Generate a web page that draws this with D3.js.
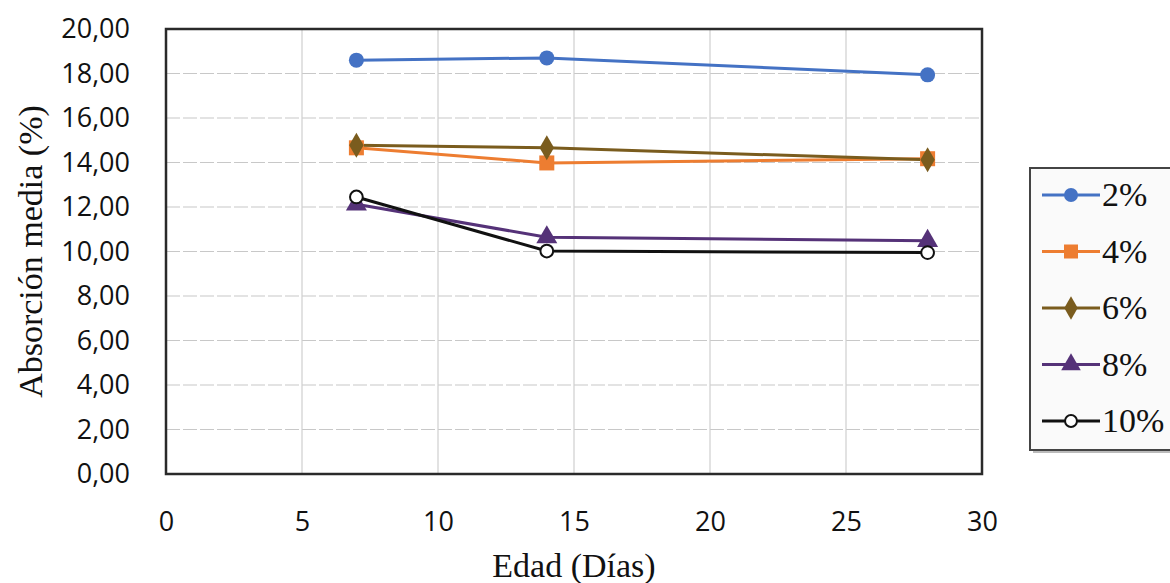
<!DOCTYPE html>
<html>
<head>
<meta charset="utf-8">
<script src="https://cdn.jsdelivr.net/npm/d3@7"></script>
<style>
  body { margin: 0; background: #fff; }
  .tick text { font-family: "Open Sans", "Noto Sans", sans-serif; font-size: 27px; fill: #111; }
  .serif { font-family: "Liberation Serif", "DejaVu Serif", serif; fill: #111; }
</style>
</head>
<body>
<div id="chart"></div>
<script>
var days = [7, 14, 28];
var seriesNames = ['2%', '4%', '6%', '8%', '10%'];
var s2 = [18.60, 18.70, 17.94];
var s4 = [14.66, 13.98, 14.17];
var s6 = [14.78, 14.66, 14.12];
var s8 = [12.12, 10.64, 10.48];
var s10 = [12.45, 10.02, 9.95];
var xTicks = [0, 5, 10, 15, 20, 25, 30];
var yTicks = [0, 2, 4, 6, 8, 10, 12, 14, 16, 18, 20];

var colors = ['#4472c4', '#ed7d31', '#7a5c1e', '#553278', '#111111'];
var shapes = ['circle', 'square', 'diamond', 'triangle', 'ring'];
var allSeries = [s2, s4, s6, s8, s10];

var width = 1170, height = 583;
var margin = { left: 166, right: 188, top: 29, bottom: 109 };

var svg = d3.select('#chart').append('svg')
    .attr('width', width)
    .attr('height', height);

var x = d3.scaleLinear().domain([0, 30]).range([margin.left, width - margin.right]);
var y = d3.scaleLinear().domain([0, 20]).range([height - margin.bottom, margin.top]);

// grid
svg.append('g').selectAll('line.h')
    .data(yTicks.slice(1, -1)).enter()
    .append('line')
    .attr('x1', x(0)).attr('x2', x(30))
    .attr('y1', d => y(d)).attr('y2', d => y(d))
    .attr('stroke', '#c8c8c8').attr('stroke-width', 1.2)
    .attr('stroke-dasharray', '14,3');

svg.append('g').selectAll('line.v')
    .data(xTicks.slice(1, -1)).enter()
    .append('line')
    .attr('y1', y(0)).attr('y2', y(20))
    .attr('x1', d => x(d)).attr('x2', d => x(d))
    .attr('stroke', '#cfcfcf').attr('stroke-width', 1.2);

// axes (labels only)
var yAxis = d3.axisLeft(y).tickValues(yTicks).tickSize(0).tickPadding(36)
    .tickFormat(d => d3.format('.2f')(d).replace('.', ','));
svg.append('g').attr('transform', `translate(${margin.left},0)`).call(yAxis)
    .call(g => g.select('.domain').remove());

var xAxis = d3.axisBottom(x).tickValues(xTicks).tickSize(0).tickPadding(38);
svg.append('g').attr('transform', `translate(0,${y(0)})`).call(xAxis)
    .call(g => g.select('.domain').remove());

// frame
svg.append('rect')
    .attr('x', x(0)).attr('y', y(20))
    .attr('width', x(30) - x(0)).attr('height', y(0) - y(20))
    .attr('fill', 'none').attr('stroke', '#2a2a2a').attr('stroke-width', 2.5);

function marker(g, shape, color, size) {
    if (shape === 'circle') {
        g.append('circle').attr('r', size).attr('fill', color);
    } else if (shape === 'square') {
        g.append('rect').attr('x', -size).attr('y', -size)
            .attr('width', size * 2).attr('height', size * 2).attr('fill', color);
    } else if (shape === 'diamond') {
        g.append('path').attr('d', d3.symbol(d3.symbolDiamond, size * size * 3.2)()).attr('fill', color);
    } else if (shape === 'triangle') {
        g.append('path').attr('d', d3.symbol(d3.symbolTriangle, size * size * 3.4)()).attr('fill', color);
    } else {
        g.append('circle').attr('r', size * 0.85).attr('fill', '#fff')
            .attr('stroke', color).attr('stroke-width', 2);
    }
}

var line = d3.line().x((d, i) => x(days[i])).y(d => y(d));

allSeries.forEach(function(vals, k) {
    svg.append('path')
        .datum(vals)
        .attr('d', line)
        .attr('fill', 'none')
        .attr('stroke', colors[k])
        .attr('stroke-width', 3);
});

allSeries.forEach(function(vals, k) {
    vals.forEach(function(v, i) {
        var g = svg.append('g').attr('transform', `translate(${x(days[i])},${y(v)})`);
        marker(g, shapes[k], colors[k], 7.5);
    });
});

// axis titles
svg.append('text').attr('class', 'serif')
    .attr('x', x(15)).attr('y', 577)
    .attr('text-anchor', 'middle')
    .style('font-size', '34px')
    .text('Edad (Días)');

svg.append('text').attr('class', 'serif')
    .attr('transform', `translate(42,${y(10)}) rotate(-90)`)
    .attr('text-anchor', 'middle')
    .style('font-size', '34px')
    .text('Absorción media (%)');

// legend
var lg = svg.append('g');
lg.append('rect')
    .attr('x', 1033).attr('y', 171).attr('width', 142).attr('height', 282)
    .attr('fill', '#bbb');
lg.append('rect')
    .attr('x', 1030).attr('y', 168).attr('width', 142).attr('height', 282)
    .attr('fill', '#fafafa').attr('stroke', '#444').attr('stroke-width', 2);

seriesNames.forEach(function(name, k) {
    var ly = 195 + k * 56.5;
    lg.append('line')
        .attr('x1', 1042).attr('x2', 1100)
        .attr('y1', ly).attr('y2', ly)
        .attr('stroke', colors[k]).attr('stroke-width', 3);
    var g = lg.append('g').attr('transform', `translate(1071,${ly})`);
    marker(g, shapes[k], colors[k], 7);
    lg.append('text').attr('class', 'serif')
        .attr('x', 1102).attr('y', ly + 11)
        .style('font-size', '34px')
        .text(name);
});
</script>
</body>
</html>
